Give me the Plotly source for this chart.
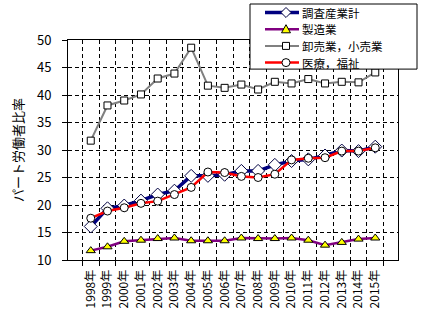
import plotly.graph_objects as go

# Survey years (category axis)
years = [f"{y}年" for y in range(1998, 2016)]

# Part-time worker ratio (%) by industry
all_industries = [16.1, 19.4, 19.9, 20.8, 21.9, 22.6, 25.3, 25.3, 25.5, 26.2,
                  26.2, 27.3, 28.0, 28.3, 29.0, 29.9, 29.8, 30.6]
manufacturing = [11.7, 12.4, 13.4, 13.6, 13.9, 14.0, 13.5, 13.5, 13.5, 14.0,
                 13.9, 13.9, 14.0, 13.6, 12.7, 13.2, 13.8, 14.0]
wholesale_retail = [31.7, 38.1, 39.0, 40.1, 43.0, 43.9, 48.6, 41.7, 41.3, 41.9,
                    41.0, 42.4, 42.1, 42.9, 42.1, 42.4, 42.3, 44.1]
medical_welfare = [17.6, 18.9, 19.5, 20.3, 20.7, 21.9, 23.2, 26.0, 25.9, 25.2,
                   25.0, 25.6, 28.2, 28.5, 28.6, 29.8, 29.8, 30.4]

series_names = ["調査産業計", "製造業", "卸売業，小売業", "医療，福祉"]
y_ticks = [10, 15, 20, 25, 30, 35, 40, 45, 50]

FONT = "Noto Sans CJK JP"
W, H = 424, 329
ML, MR, MT, MB = 68, 26, 40, 69
PW, PH = W - ML - MR, H - MT - MB

# Per-series styling: line colour/width, marker symbol/size/fill
styles = [
    dict(line="#000080", lw=3.5, sym="diamond", size=10, fill="white", edge="#000040"),
    dict(line="#800080", lw=2.5, sym="triangle-up", size=8, fill="#FFFF00", edge="black"),
    dict(line="#808080", lw=2, sym="square", size=7, fill="white", edge="black"),
    dict(line="#FF0000", lw=2.5, sym="circle", size=8, fill="white", edge="black"),
]
series_values = [all_industries, manufacturing, wholesale_retail, medical_welfare]

fig = go.Figure()
for name, vals, st in zip(series_names, series_values, styles):
    fig.add_trace(go.Scatter(
        x=years, y=vals, name=name, mode="lines+markers", showlegend=False,
        line=dict(color=st["line"], width=st["lw"]),
        marker=dict(symbol=st["sym"], size=st["size"], color=st["fill"],
                    line=dict(color=st["edge"], width=1)),
    ))


# Legend box drawn in pixel space (converted to paper coordinates)
def px(x):
    return (x - ML) / PW


def py(y):
    return (H - MB - y) / PH


def marker_shape(sym, cx, cy, r, fill, edge):
    if sym == "circle":
        return dict(type="circle", xref="paper", yref="paper",
                    x0=px(cx - r), x1=px(cx + r), y0=py(cy + r), y1=py(cy - r),
                    fillcolor=fill, line=dict(color=edge, width=1))
    if sym == "square":
        return dict(type="rect", xref="paper", yref="paper",
                    x0=px(cx - r), x1=px(cx + r), y0=py(cy + r), y1=py(cy - r),
                    fillcolor=fill, line=dict(color=edge, width=1))
    if sym == "diamond":
        pts = [(cx, cy - r), (cx + r, cy), (cx, cy + r), (cx - r, cy)]
    else:
        pts = [(cx, cy - r), (cx + r, cy + r * 0.8), (cx - r, cy + r * 0.8)]
    path = "M " + " L ".join(f"{px(a):.5f},{py(b):.5f}" for a, b in pts) + " Z"
    return dict(type="path", xref="paper", yref="paper", path=path,
                fillcolor=fill, line=dict(color=edge, width=1))


LEG_FONT = 11.5
row_gap = 16.7
row_top = 12.5
row_y = [row_top + i * row_gap for i in range(len(series_names))]

shapes = [dict(type="rect", xref="paper", yref="paper",
               x0=px(250), x1=px(417), y0=py(row_y[-1] + 6.5), y1=py(4),
               fillcolor="white", line=dict(color="black", width=1))]
marker_r = [5, 4.5, 3.5, 4]
annotations = []
for name, st, ry, r in zip(series_names, styles, row_y, marker_r):
    shapes.append(dict(type="line", xref="paper", yref="paper",
                       x0=px(265), x1=px(299), y0=py(ry), y1=py(ry),
                       line=dict(color=st["line"], width=st["lw"])))
    shapes.append(marker_shape(st["sym"], 286, ry, r, st["fill"], st["edge"]))
    annotations.append(dict(
        xref="paper", yref="paper", x=px(301), y=py(ry),
        xanchor="left", yanchor="middle", showarrow=False, borderpad=0,
        text=name, font=dict(family=FONT, size=LEG_FONT, color="black"),
    ))

fig.update_layout(
    width=W, height=H,
    margin=dict(l=ML, r=MR, t=MT, b=MB),
    paper_bgcolor="white", plot_bgcolor="white",
    font=dict(family=FONT, size=12, color="black"),
    showlegend=False,
    shapes=shapes, annotations=annotations,
)

fig.update_xaxes(
    type="category", tickangle=-90, tickson="boundaries", automargin=False,
    ticks="outside", ticklen=5, tickcolor="black",
    showline=True, linecolor="black", linewidth=1, mirror=True,
    showgrid=True, gridcolor="black", griddash="4px,3px", gridwidth=1,
    tickfont=dict(family=FONT, size=12), ticklabelstandoff=4,
)
fig.update_yaxes(
    range=[10, 50], tickvals=y_ticks, ticks="outside", ticklen=5,
    tickcolor="black", automargin=False,
    showline=True, linecolor="black", linewidth=1, mirror=True,
    showgrid=True, gridcolor="black", griddash="4px,3px", gridwidth=1,
    zeroline=False,
    tickfont=dict(family=FONT, size=13), ticklabelstandoff=8,
    title=dict(text="パート労働者比率", font=dict(family=FONT, size=13),
               standoff=10),
)

fig.write_html("out.html")
